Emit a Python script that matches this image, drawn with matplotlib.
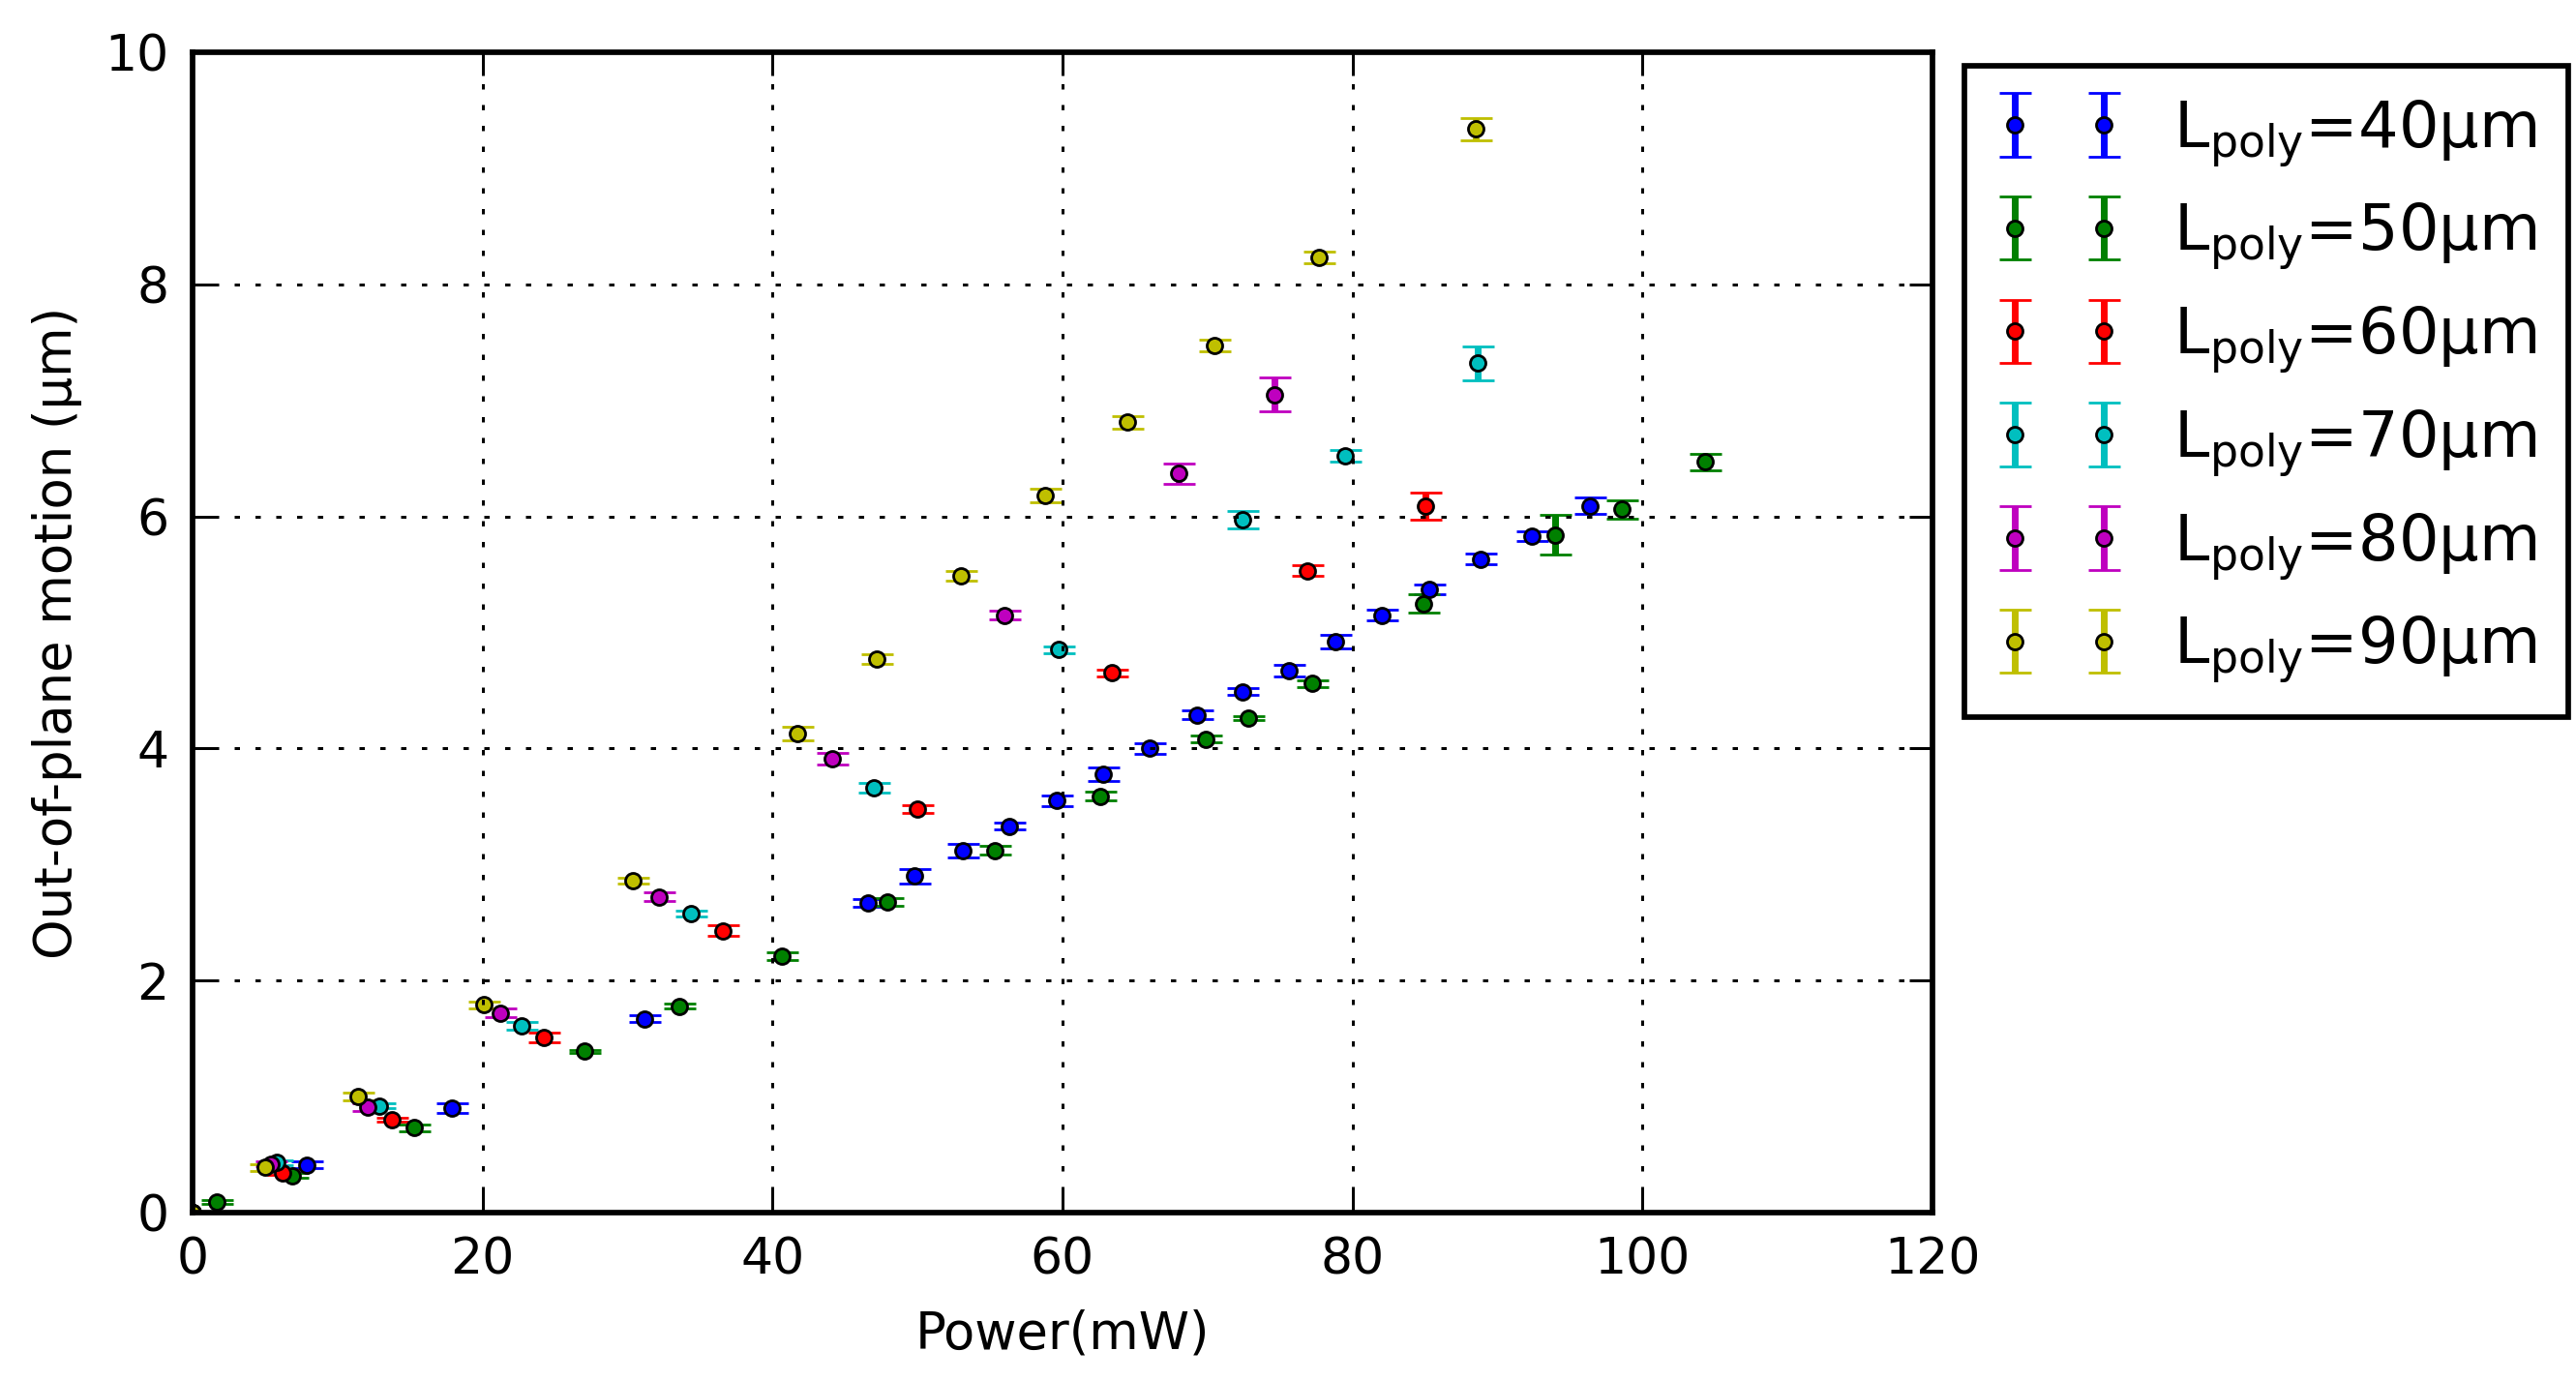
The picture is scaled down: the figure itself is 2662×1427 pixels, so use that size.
import matplotlib
matplotlib.use("Agg")
import matplotlib.pyplot as plt

plt.rcParams['font.family'] = ['DejaVu Sans']
plt.rcParams['lines.scale_dashes'] = False
plt.rcParams['mathtext.default'] = 'regular'

labels = [r'L$_{poly}$=40µm', r'L$_{poly}$=50µm', r'L$_{poly}$=60µm',
          r'L$_{poly}$=70µm', r'L$_{poly}$=80µm', r'L$_{poly}$=90µm']
colors = [(0, 0, 1), (0, 0.5, 0), (1, 0, 0), (0, 0.75, 0.75), (0.75, 0, 0.75), (0.75, 0.75, 0)]

# L_poly = 40 um
p40 = [0.0, 7.9, 17.9, 31.2, 46.6, 49.8, 53.1, 56.3, 59.6, 62.8, 66.0, 69.25, 72.4, 75.6, 78.8, 82.0, 85.3, 88.8, 92.4, 96.4]
d40 = [0.0, 0.41, 0.90, 1.67, 2.67, 2.90, 3.12, 3.33, 3.55, 3.78, 4.00, 4.29, 4.49, 4.67, 4.92, 5.15, 5.37, 5.63, 5.83, 6.09]
e40 = [0.0, 0.028, 0.04, 0.028, 0.035, 0.063, 0.058, 0.028, 0.043, 0.058, 0.044, 0.035, 0.029, 0.05, 0.057, 0.042, 0.039, 0.046, 0.044, 0.071]

# L_poly = 50 um
p50 = [0.0, 1.7, 6.85, 15.3, 27.0, 33.6, 40.65, 47.9, 55.3, 62.6, 69.9, 72.8, 77.2, 84.9, 94.0, 98.6, 104.3]
d50 = [0.0, 0.09, 0.32, 0.73, 1.39, 1.78, 2.21, 2.68, 3.12, 3.59, 4.08, 4.26, 4.56, 5.25, 5.84, 6.06, 6.47]
e50 = [0.0, 0.015, 0.02, 0.028, 0.015, 0.02, 0.034, 0.032, 0.037, 0.036, 0.029, 0.015, 0.031, 0.078, 0.17, 0.079, 0.072]

# L_poly = 60 um
p60 = [0.0, 6.2, 13.75, 24.2, 36.6, 50.0, 63.4, 76.9, 85.0]
d60 = [0.0, 0.345, 0.80, 1.51, 2.43, 3.48, 4.65, 5.53, 6.09]
e60 = [0.0, 0.02, 0.02, 0.039, 0.043, 0.035, 0.033, 0.046, 0.115]

# L_poly = 70 um
p70 = [0.0, 5.8, 12.9, 22.7, 34.4, 47.0, 59.7, 72.4, 79.5, 88.6]
d70 = [0.0, 0.43, 0.92, 1.61, 2.58, 3.66, 4.85, 5.97, 6.52, 7.32]
e70 = [0.0, 0.02, 0.02, 0.033, 0.024, 0.04, 0.028, 0.076, 0.05, 0.146]

# L_poly = 80 um
p80 = [0.0, 5.4, 12.1, 21.25, 32.2, 44.1, 56.0, 68.0, 74.6]
d80 = [0.0, 0.42, 0.91, 1.72, 2.72, 3.91, 5.15, 6.37, 7.05]
e80 = [0.0, 0.02, 0.033, 0.036, 0.037, 0.051, 0.039, 0.089, 0.147]

# L_poly = 90 um
p90 = [0.0, 5.0, 11.4, 20.1, 30.4, 41.7, 47.2, 53.0, 58.8, 64.5, 70.5, 77.7, 88.5]
d90 = [0.0, 0.39, 1.00, 1.79, 2.86, 4.13, 4.77, 5.49, 6.18, 6.81, 7.47, 8.23, 9.34]
e90 = [0.0, 0.03, 0.035, 0.028, 0.024, 0.058, 0.04, 0.04, 0.057, 0.053, 0.049, 0.051, 0.095]

powers = [p40, p50, p60, p70, p80, p90]
disps = [d40, d50, d60, d70, d80, d90]
errs = [e40, e50, e60, e70, e80, e90]

xticks = [0, 20, 40, 60, 80, 100, 120]
yticks = [0, 2, 4, 6, 8, 10]

W, H, DPI = 2662, 1427, 300
fig = plt.figure(figsize=(W / DPI, H / DPI), dpi=DPI)
ax = fig.add_axes([199 / W, 1 - 1253 / H, (1997 - 199) / W, (1253 - 54) / H])

for x, y, e, c, lab in zip(powers, disps, errs, colors, labels):
    ax.errorbar(x, y, yerr=e, fmt='o', color=c, ecolor=c, mfc=c, mec='k',
                ms=3.84, mew=0.67, capsize=3.96, capthick=0.8, elinewidth=1.68,
                label=lab)

ax.set_xlim(0, 120)
ax.set_ylim(0, 10)
ax.set_xticks(xticks)
ax.set_yticks(yticks)
ax.grid(True, color='k', linewidth=0.72, linestyle=(0, (1.32, 3.84)))
ax.set_axisbelow(False)
for sp in ax.spines.values():
    sp.set_linewidth(1.37)
ax.tick_params(direction='in', length=5.76, width=0.72, top=True, right=True,
               labelsize=12.5, pad=5.8)
ax.set_xlabel('Power(mW)', fontsize=12.7, labelpad=6)
ax.set_ylabel('Out-of-plane motion (µm)', fontsize=12.7, labelpad=5.6)

leg = ax.legend(loc='upper left', bbox_to_anchor=(2030 / W, 1 - 68 / H),
                bbox_transform=fig.transFigure, borderaxespad=0,
                numpoints=2, fontsize=15.7, fancybox=False, framealpha=1,
                edgecolor='k', handlelength=2.0, handletextpad=0.8,
                borderpad=0.5, labelspacing=0.5)
leg.get_frame().set_linewidth(1.37)

fig.savefig('out.png', dpi=DPI)
